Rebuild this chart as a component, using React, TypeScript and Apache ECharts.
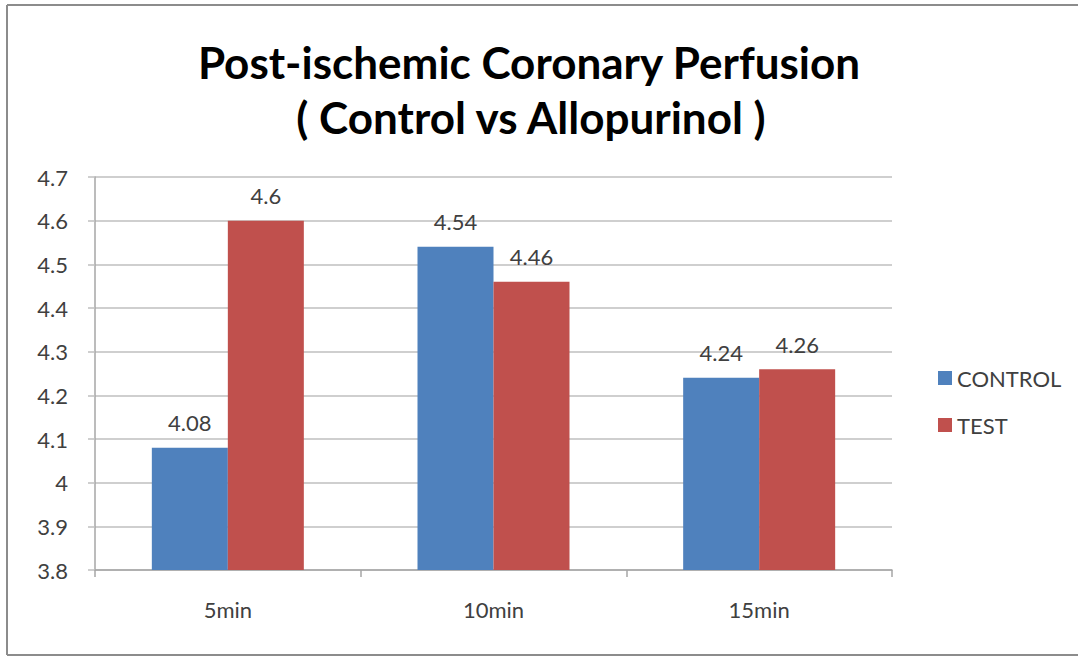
import React, { useEffect, useRef } from "react";
import * as echarts from "echarts";

const categories = ["5min", "10min", "15min"];
const controlValues = [4.08, 4.54, 4.24];
const testValues = [4.6, 4.46, 4.26];
const titleLines = ["Post-ischemic Coronary Perfusion", "( Control vs Allopurinol )"];

export default function App() {
  const ref = useRef<HTMLDivElement>(null);
  useEffect(() => {
    if (!ref.current) return;
    const chart = echarts.init(ref.current, null, { renderer: "svg" });
    const font = "Lato, 'Open Sans', sans-serif";
    const labelStyle = {
      show: true,
      position: "top" as const,
      distance: 14,
      fontSize: 22,
      color: "#404040",
      fontFamily: font,
    };
    const borderStyle = { stroke: "#8c8c8c", lineWidth: 2 };
    chart.setOption({
      animation: false,
      backgroundColor: "#ffffff",
      graphic: [
        { type: "line", shape: { x1: 7, y1: 5, x2: 1078, y2: 5 }, style: borderStyle, silent: true },
        { type: "line", shape: { x1: 7, y1: 5, x2: 7, y2: 655 }, style: borderStyle, silent: true },
        { type: "line", shape: { x1: 7, y1: 655, x2: 1078, y2: 655 }, style: borderStyle, silent: true },
        {
          type: "text",
          x: 529,
          y: 62,
          style: {
            text: titleLines[0],
            fontSize: 44,
            fontWeight: "bold",
            fontFamily: font,
            fill: "#000000",
            align: "center",
            verticalAlign: "middle",
          },
        },
        {
          type: "text",
          x: 531,
          y: 117,
          style: {
            text: titleLines[1],
            fontSize: 44,
            fontWeight: "bold",
            fontFamily: font,
            fill: "#000000",
            align: "center",
            verticalAlign: "middle",
          },
        },
      ],
      legend: {
        orient: "vertical",
        left: 933,
        top: 362,
        itemWidth: 14,
        itemHeight: 14,
        itemGap: 25,
        icon: "rect",
        textStyle: { fontSize: 22, color: "#404040", fontFamily: font, lineHeight: 22 },
        data: ["CONTROL", "TEST"],
      },
      grid: { left: 95, right: 186, top: 177, bottom: 86, containLabel: false },
      xAxis: {
        type: "category",
        data: categories,
        axisLine: { show: true, lineStyle: { color: "#a6a6a6", width: 1.5 } },
        axisTick: { show: true, length: 7, lineStyle: { color: "#a6a6a6", width: 1.5 } },
        axisLabel: { fontSize: 22, color: "#404040", fontFamily: font, margin: 28 },
      },
      yAxis: {
        type: "value",
        min: 3.8,
        max: 4.7,
        interval: 0.1,
        axisLine: { show: true, lineStyle: { color: "#a6a6a6", width: 1.5 } },
        axisTick: { show: true, length: 7, lineStyle: { color: "#bfbfbf", width: 1.5 } },
        splitLine: { show: true, lineStyle: { color: "#bfbfbf", width: 1.5 } },
        axisLabel: {
          fontSize: 22,
          color: "#404040",
          fontFamily: font,
          margin: 27,
          formatter: (v: number) => String(Math.round(v * 10) / 10),
        },
      },
      series: [
        {
          name: "CONTROL",
          type: "bar",
          data: controlValues,
          barWidth: 76,
          barGap: "0%",
          itemStyle: { color: "#4F81BD" },
          label: labelStyle,
        },
        {
          name: "TEST",
          type: "bar",
          data: testValues,
          barWidth: 76,
          barGap: "0%",
          itemStyle: { color: "#C0504D" },
          label: labelStyle,
        },
      ],
    });
    return () => chart.dispose();
  }, []);
  return (
    <div
      ref={ref}
      style={{ position: "fixed", left: 0, top: 0, width: 1078, height: 656 }}
    />
  );
}
